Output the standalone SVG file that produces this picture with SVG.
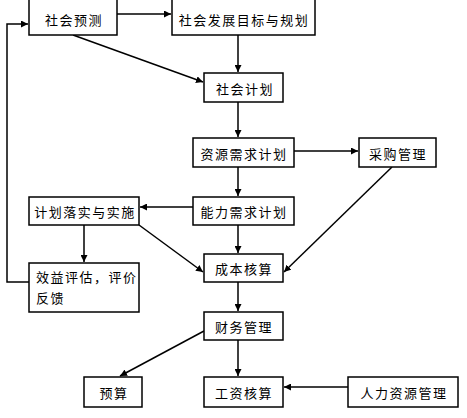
<svg xmlns="http://www.w3.org/2000/svg" width="467" height="418" viewBox="0 0 467 418">
<defs>
<marker id="ah" viewBox="0 0 10 10" refX="10" refY="5" markerWidth="7" markerHeight="7" markerUnits="userSpaceOnUse" orient="auto">
<path d="M0,0 L10,5 L0,10 z" fill="#000"/>
</marker>
<style>
rect{fill:#fff;stroke:#000;stroke-width:1.5}
text{font-family:"Noto Sans CJK SC","Noto Sans",sans-serif;font-size:13px;fill:#000;letter-spacing:1.5px}
.c{text-anchor:middle;dominant-baseline:central}
#edges path{fill:none;stroke:#000;stroke-width:1.5;marker-end:url(#ah)}
</style>
</defs>
<rect x="0" y="0" width="467" height="418" style="fill:#fff;stroke:none"/>
<g id="edges">
<path d="M117,14 L171,14"/>
<path d="M73,35 L203,82"/>
<path d="M238,35 L238,72"/>
<path d="M238,102 L238,137"/>
<path d="M294,151 L358,151"/>
<path d="M238,167 L238,196"/>
<path d="M193,207 L140,207"/>
<path d="M238,225 L238,253"/>
<path d="M139,225 L203,272"/>
<path d="M84,225 L84,262"/>
<path d="M392,167 L284,272"/>
<path d="M238,282 L238,311"/>
<path d="M204,331 L120,376"/>
<path d="M238,340 L238,376"/>
<path d="M348,387 L284,387"/>
<path d="M29,282 L7,282 L7,24 L28,24"/>
</g>
<g id="n1"><rect x="29" y="-2" width="88" height="37"/><text class="c" x="74" y="19">社会预测</text></g>
<g id="n2"><rect x="172" y="-2" width="143" height="37"/><text class="c" x="244" y="19">社会发展目标与规划</text></g>
<g id="n3"><rect x="204" y="73" width="79" height="29"/><text class="c" x="245" y="88">社会计划</text></g>
<g id="n4"><rect x="193" y="138" width="101" height="29"/><text class="c" x="244" y="153">资源需求计划</text></g>
<g id="n5"><rect x="359" y="138" width="77" height="29"/><text class="c" x="398" y="153">采购管理</text></g>
<g id="n6"><rect x="29" y="197" width="110" height="28"/><text class="c" x="85" y="211">计划落实与实施</text></g>
<g id="n7"><rect x="193" y="197" width="101" height="28"/><text class="c" x="244" y="211">能力需求计划</text></g>
<g id="n8"><rect x="204" y="254" width="79" height="28"/><text class="c" x="244" y="268">成本核算</text></g>
<g id="n9"><rect x="29" y="263" width="110" height="49"/><text x="36" y="282">效益评估，评价</text><text x="36" y="303">反馈</text></g>
<g id="n10"><rect x="204" y="312" width="79" height="28"/><text class="c" x="244" y="326">财务管理</text></g>
<g id="n11"><rect x="84" y="377" width="58" height="30"/><text class="c" x="114" y="392">预算</text></g>
<g id="n12"><rect x="204" y="377" width="79" height="30"/><text class="c" x="244" y="392">工资核算</text></g>
<g id="n13"><rect x="348" y="377" width="110" height="30"/><text class="c" x="404" y="392">人力资源管理</text></g>
</svg>
